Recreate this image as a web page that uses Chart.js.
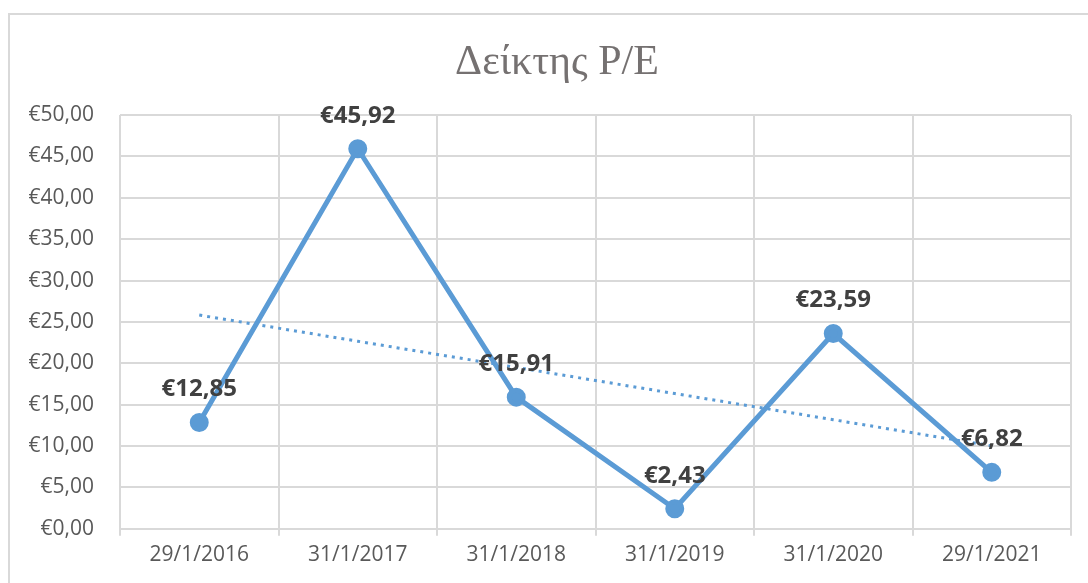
<!DOCTYPE html>
<html>
<head>
<meta charset="utf-8">
<script src="https://cdn.jsdelivr.net/npm/chart.js@4.4.0/dist/chart.umd.min.js"></script>
<style>
  html, body { margin: 0; padding: 0; background: #fff; overflow: hidden; }
  #frame {
    position: absolute; left: 8px; top: 13px;
    width: 1094px; height: 570px;
    border-left: 2px solid #d9d9d9; border-top: 2px solid #d9d9d9;
  }
  #chart { display: block; }
</style>
</head>
<body>
<div id="frame"><canvas id="chart" width="1094" height="568"></canvas></div>
<script>
const categories = ['29/1/2016', '31/1/2017', '31/1/2018', '31/1/2019', '31/1/2020', '29/1/2021'];
const peValues = [12.85, 45.92, 15.91, 2.43, 23.59, 6.82];
const yTicks = [0, 5, 10, 15, 20, 25, 30, 35, 40, 45, 50];
const chartTitle = 'Δείκτης P/E';

const blue = '#5b9bd5';
const fontFamily = "'Open Sans', 'Noto Sans', sans-serif";

function euro(v) {
  return '€' + v.toFixed(2).replace('.', ',');
}

// linear trend line (least squares) over the series
function trend(values) {
  const n = values.length;
  const mx = (n + 1) / 2;
  const my = values.reduce((a, b) => a + b, 0) / n;
  let sxy = 0, sxx = 0;
  values.forEach((v, i) => {
    sxy += (i + 1 - mx) * (v - my);
    sxx += (i + 1 - mx) * (i + 1 - mx);
  });
  const slope = sxy / sxx;
  return values.map((v, i) => my + slope * (i + 1 - mx));
}

// value labels above the points + title centred on the whole chart frame
const labelPlugin = {
  id: 'valueLabels',
  afterDatasetsDraw(chart) {
    const ctx = chart.ctx;
    const meta = chart.getDatasetMeta(0);
    ctx.save();
    ctx.font = "bold 24px " + fontFamily;
    ctx.fillStyle = '#404040';
    ctx.textAlign = 'center';
    ctx.textBaseline = 'middle';
    meta.data.forEach((pt, i) => {
      ctx.fillText(euro(peValues[i]), pt.x, pt.y - 33);
    });

    ctx.font = "42px 'Liberation Serif', 'DejaVu Serif', serif";
    ctx.fillStyle = '#757171';
    ctx.fillText(chartTitle, chart.width / 2, 48);
    ctx.restore();
  }
};

new Chart(document.getElementById('chart'), {
  type: 'line',
  data: {
    labels: categories,
    datasets: [{
      data: peValues,
      borderColor: blue,
      backgroundColor: blue,
      borderWidth: 5,
      pointRadius: 7,
      pointHoverRadius: 7,
      tension: 0,
      order: 1
    }, {
      data: trend(peValues),
      borderColor: blue,
      borderWidth: 3,
      borderDash: [3, 5],
      pointRadius: 0,
      tension: 0,
      order: 2
    }]
  },
  options: {
    responsive: false,
    animation: false,
    layout: { padding: { left: 3, right: 33, top: 100, bottom: 8 } },
    plugins: {
      legend: { display: false },
      tooltip: { enabled: false },
      title: { display: false }
    },
    scales: {
      x: {
        offset: true,
        grid: { offset: true, color: '#d9d9d9', lineWidth: 2, tickLength: 7 },
        border: { color: '#d9d9d9', width: 2 },
        ticks: { color: '#595959', font: { family: fontFamily, size: 21 }, padding: 7, maxRotation: 0 }
      },
      y: {
        min: 0,
        max: 50,
        afterBuildTicks(axis) { axis.ticks = yTicks.map(v => ({ value: v })); },
        afterFit(axis) { axis.width = 107; },
        grid: { color: '#d9d9d9', lineWidth: 2, drawTicks: false },
        border: { display: false },
        ticks: {
          color: '#595959',
          font: { family: fontFamily, size: 21 },
          padding: 26,
          callback: v => euro(v)
        }
      }
    }
  },
  plugins: [labelPlugin]
});
</script>
</body>
</html>
